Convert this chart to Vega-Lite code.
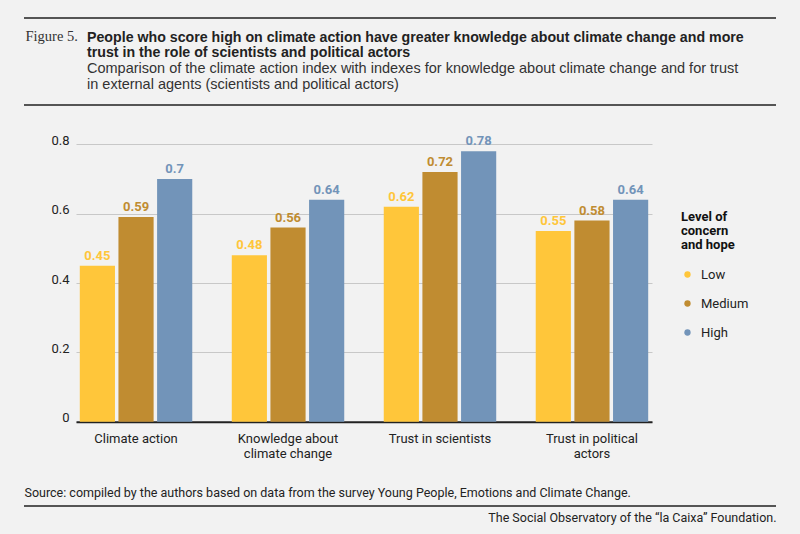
{
  "$schema": "https://vega.github.io/schema/vega-lite/v6.json",
  "width": 752,
  "height": 488,
  "autosize": {"type": "none"},
  "padding": {"left": 24, "top": 18, "right": 24, "bottom": 28},
  "background": "#f2f2f2",
  "config": {
    "font": "Roboto",
    "view": {"stroke": "#555555", "strokeWidth": 2, "strokeDash": [752, 488], "fill": null}
  },
  "title": {
    "text": [
      "People who score high on climate action have greater knowledge about climate change and more",
      "trust in the role of scientists and political actors"
    ],
    "subtitle": [
      "Comparison of the climate action index with indexes for knowledge about climate change and for trust",
      "in external agents (scientists and political actors)"
    ],
    "anchor": "start",
    "frame": "group",
    "dx": 63,
    "offset": -73,
    "font": "Liberation Sans",
    "fontSize": 14.2,
    "fontWeight": "bold",
    "color": "#222222",
    "lineHeight": 15.4,
    "subtitleFont": "Liberation Sans",
    "subtitleFontSize": 14.5,
    "subtitleColor": "#333333",
    "subtitleLineHeight": 15.5,
    "subtitlePadding": 1.5
  },
  "data": {
    "values": [
      {"category": "Climate action", "level": "Low", "value": 0.45},
      {"category": "Climate action", "level": "Medium", "value": 0.59},
      {"category": "Climate action", "level": "High", "value": 0.7},
      {"category": "Knowledge about climate change", "level": "Low", "value": 0.48},
      {"category": "Knowledge about climate change", "level": "Medium", "value": 0.56},
      {"category": "Knowledge about climate change", "level": "High", "value": 0.64},
      {"category": "Trust in scientists", "level": "Low", "value": 0.62},
      {"category": "Trust in scientists", "level": "Medium", "value": 0.72},
      {"category": "Trust in scientists", "level": "High", "value": 0.78},
      {"category": "Trust in political actors", "level": "Low", "value": 0.55},
      {"category": "Trust in political actors", "level": "Medium", "value": 0.58},
      {"category": "Trust in political actors", "level": "High", "value": 0.64}
    ]
  },
  "layer": [
    {
      "encoding": {
        "x": {
          "field": "category",
          "type": "nominal",
          "sort": null,
          "scale": {"range": [52, 628], "paddingInner": 0.26, "paddingOuter": 0.025},
          "axis": {
            "orient": "bottom",
            "offset": -84.3,
            "title": "Source: compiled by the authors based on data from the survey Young People, Emotions and Climate Change.",
            "titleFont": "Roboto",
            "titleFontSize": 12.5,
            "titleFontWeight": "normal",
            "titleColor": "#222222",
            "titleAnchor": "start",
            "titleAlign": "left",
            "titleBaseline": "alphabetic",
            "titleX": 0,
            "titleY": 74.8,
            "labelAngle": 0,
            "labelFontSize": 13,
            "labelColor": "#222222",
            "labelPadding": 11,
            "labelLineHeight": 15,
            "labelExpr": "datum.value == 'Knowledge about climate change' ? ['Knowledge about', 'climate change'] : datum.value == 'Trust in political actors' ? ['Trust in political', 'actors'] : datum.value",
            "ticks": false,
            "domainColor": "#222222",
            "domainWidth": 2
          }
        },
        "xOffset": {
          "field": "level",
          "type": "nominal",
          "sort": ["Low", "Medium", "High"],
          "scale": {"paddingInner": 0.09, "paddingOuter": 0}
        },
        "y": {
          "field": "value",
          "type": "quantitative",
          "scale": {"domain": [0, 0.8], "range": [403.7, 126.3], "nice": false},
          "axis": {
            "orient": "left",
            "offset": -45,
            "values": [0, 0.2, 0.4, 0.6, 0.8],
            "format": "~g",
            "labelPadding": 0,
            "labelFontSize": 13,
            "labelColor": "#222222",
            "labelBaseline": "alphabetic",
            "ticks": false,
            "domain": false,
            "grid": true,
            "gridColor": "#c8c8c8",
            "gridWidth": 1,
            "title": "Figure 5.",
            "titleFont": "Liberation Serif",
            "titleFontSize": 14.5,
            "titleFontWeight": "normal",
            "titleColor": "#333333",
            "titleAngle": 0,
            "titleAlign": "left",
            "titleBaseline": "alphabetic",
            "titleX": -44,
            "titleY": 22.7
          }
        },
        "color": {
          "field": "level",
          "type": "nominal",
          "sort": ["Low", "Medium", "High"],
          "scale": {"domain": ["Low", "Medium", "High"], "range": ["#ffc63a", "#c08c31", "#7294b9"]},
          "legend": {
            "title": ["Level of", "concern", "and hope"],
            "orient": "none",
            "legendX": 657,
            "legendY": 193,
            "padding": 0,
            "titleFontSize": 13,
            "titleFontWeight": "bold",
            "titleLineHeight": 14,
            "titleColor": "#111111",
            "titlePadding": 16,
            "labelFontSize": 13,
            "labelColor": "#222222",
            "labelOffset": 7,
            "rowPadding": 15,
            "symbolType": "circle",
            "symbolSize": 40,
            "symbolStrokeWidth": 0
          }
        }
      },
      "layer": [
        {"mark": {"type": "bar"}},
        {
          "mark": {"type": "text", "fontSize": 13, "fontWeight": "bold", "baseline": "alphabetic", "dy": -6},
          "encoding": {"text": {"field": "value", "type": "quantitative", "format": ".2~f"}}
        }
      ]
    },
    {
      "data": {"values": [{}]},
      "mark": {"type": "rule", "color": "#555555", "strokeWidth": 2},
      "encoding": {
        "y": {"datum": 0.9133, "type": "quantitative", "scale": {"domain": [0, 0.8], "range": [403.7, 126.3], "nice": false}},
        "x": {
          "datum": 0,
          "type": "quantitative",
          "scale": {"domain": [0, 1], "nice": false},
          "axis": {
            "orient": "top",
            "title": "The Social Observatory of the “la Caixa” Foundation.",
            "titleFont": "Roboto",
            "titleFontSize": 12.5,
            "titleFontWeight": "normal",
            "titleColor": "#222222",
            "titleAlign": "right",
            "titleAnchor": "end",
            "titleBaseline": "alphabetic",
            "titleX": 752,
            "titleY": 503.7,
            "labels": false,
            "ticks": false,
            "domain": false,
            "grid": false
          }
        },
        "x2": {"datum": 1}
      }
    }
  ],
  "resolve": {"scale": {"x": "independent"}, "axis": {"x": "independent"}}
}
